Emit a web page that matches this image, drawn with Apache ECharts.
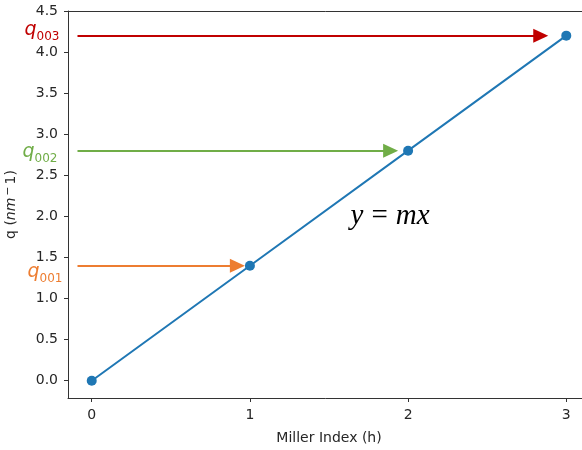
<!DOCTYPE html>
<html><head><meta charset="utf-8">
<script src="https://cdn.jsdelivr.net/npm/echarts@6/dist/echarts.min.js"></script>
<style>html,body{margin:0;padding:0;background:#fff}#c{width:582px;height:450px}</style>
</head><body><div id="c"></div>
<script>
const millerIndex = [0, 1, 2, 3];
const qValues = [0, 1.4, 2.8, 4.2];
const xTicks = [0, 1, 2, 3];
const yTicks = [0, 0.5, 1, 1.5, 2, 2.5, 3, 3.5, 4, 4.5];
const arrowNames = ['001', '002', '003'];
const arrowY = [1.4, 2.8, 4.2];
const arrowStartX = [-0.09, -0.09, -0.09];
const arrowTipX = [0.968, 1.937, 2.886];
const arrowColors = ['#ed7d31', '#70ad47', '#c00000'];
const labelOffsets = [[-15, 8], [-20, 3], [-18, -4]];
const equationText = ['y', '=', 'mx'];
const equationPos = [1.886, 2.0];

const chart = echarts.init(document.getElementById('c'));
const txt = '#262626';
const headLen = 15, headW = 14;

const markLines = arrowNames.map((n, i) => {
  return [
    {coord: [arrowStartX[i], arrowY[i]], lineStyle: {color: arrowColors[i], width: 2, type: 'solid'},
     label: {show: true, position: 'start', distance: 0, offset: labelOffsets[i],
       formatter: '{q|q}{s|' + n + '}',
       rich: {q: {fontFamily: 'DejaVu Sans', fontStyle: 'italic', fontSize: 19, color: arrowColors[i], verticalAlign: 'top', padding: [0,0,4,0]},
              s: {fontFamily: 'DejaVu Sans', fontSize: 12, color: arrowColors[i], verticalAlign: 'bottom'}}}},
    {coord: [arrowTipX[i], arrowY[i]], symbol: 'triangle'}
  ];
});

chart.setOption({
  animation: false,
  grid: {left: 68, top: 11, right: -8, bottom: 52, show: false, outerBoundsMode: 'none', containLabel: false},
  xAxis: [{
    type: 'value', min: -0.15, max: 3.15,
    name: 'Miller Index (h)', nameLocation: 'middle', nameGap: 33,
    nameTextStyle: {fontFamily: 'DejaVu Sans', fontSize: 14, color: txt},
    axisLine: {show: true, onZero: false, lineStyle: {color: '#333', width: 1}},
    axisTick: {show: true, length: 4, customValues: xTicks, lineStyle: {color: '#333'}},
    axisLabel: {customValues: xTicks, margin: 10, fontFamily: 'DejaVu Sans', fontSize: 14, color: txt},
    splitLine: {show: false}
  }, {
    type: 'value', position: 'top', min: -0.15, max: 3.15,
    axisLine: {show: true, onZero: false, lineStyle: {color: '#333', width: 1}},
    axisTick: {show: false}, axisLabel: {show: false}, splitLine: {show: false}
  }],
  yAxis: {
    type: 'value', min: -0.21, max: 4.5,
    name: '{n|q (}{i|nm}{sup|−}{n|1)}', nameLocation: 'middle', nameGap: 48, nameRotate: 90,
    nameTextStyle: {rich: {
      n: {fontFamily: 'DejaVu Sans', fontSize: 14, color: txt},
      i: {fontFamily: 'DejaVu Sans', fontStyle: 'italic', fontSize: 14, color: txt},
      sup: {fontFamily: 'DejaVu Sans', fontSize: 11, color: txt, verticalAlign: 'top', padding: [0,2,6,2]}
    }},
    axisLine: {show: true, onZero: false, lineStyle: {color: '#333', width: 1}},
    axisTick: {show: true, length: 4, customValues: yTicks, lineStyle: {color: '#333'}},
    axisLabel: {customValues: yTicks, margin: 10, fontFamily: 'DejaVu Sans', fontSize: 14, color: txt,
      formatter: v => v.toFixed(1)},
    splitLine: {show: false}
  },
  series: [{
    type: 'line',
    data: millerIndex.map((x, i) => [x, qValues[i]]),
    symbol: 'circle', symbolSize: 10,
    itemStyle: {color: '#1f77b4'},
    lineStyle: {color: '#1f77b4', width: 2},
    z: 5,
    markLine: {
      silent: true, animation: false,
      symbol: ['none', 'triangle'], symbolSize: [headW, headLen],
      data: markLines
    },
    markPoint: {
      silent: true,
      symbol: 'circle', symbolSize: 1,
      itemStyle: {color: 'rgba(0,0,0,0)'},
      label: {show: true, position: 'inside',
        formatter: '{v|' + equationText[0] + '}{o|' + equationText[1] + '}{v|' + equationText[2] + '}',
        rich: {v: {fontFamily: 'Liberation Serif', fontStyle: 'italic', fontSize: 29, color: '#000'},
               o: {fontFamily: 'Liberation Serif', fontSize: 29, color: '#000', padding: [0, 8, 0, 8]}}},
      data: [{coord: equationPos}]
    }
  }]
});

// Shift arrow ends so the triangle tip lands on the tip value
const opt = chart.getOption();
const ml = opt.series[0].markLine.data.map((pair, i) => {
  const tipPx = chart.convertToPixel({gridIndex: 0}, [arrowTipX[i], arrowY[i]]);
  const endData = chart.convertFromPixel({gridIndex: 0}, [tipPx[0] - headLen / 2, tipPx[1]]);
  return [pair[0], Object.assign({}, pair[1], {coord: [endData[0], arrowY[i]]})];
});
chart.setOption({series: [{markLine: {data: ml}}]});
</script></body></html>
